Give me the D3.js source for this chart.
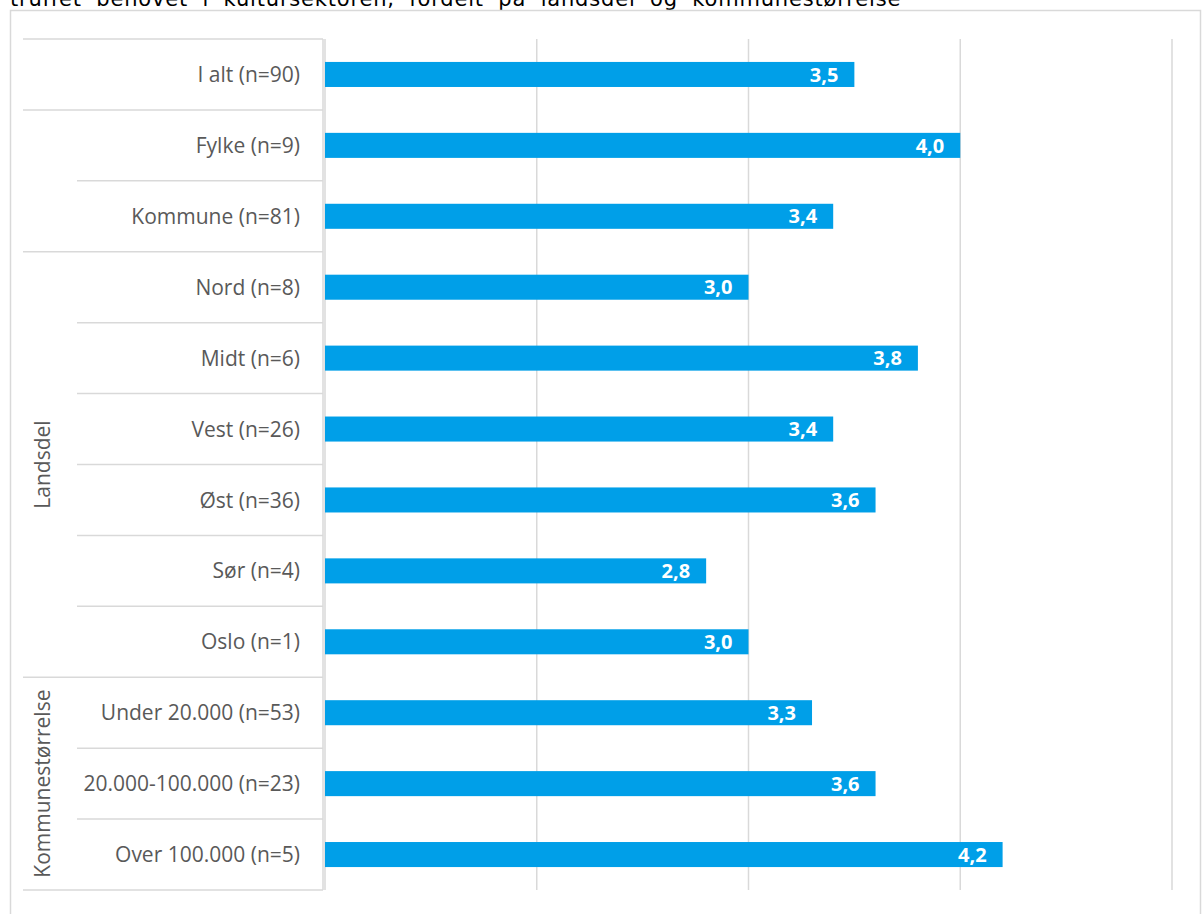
<!DOCTYPE html>
<html>
<head>
<meta charset="utf-8">
<script src="https://cdn.jsdelivr.net/npm/d3@7"></script>
<style>
  html, body { margin: 0; padding: 0; background: #fff; overflow: hidden; }
  svg { display: block; }
</style>
</head>
<body>
<svg id="chart" width="1202" height="914"></svg>
<script>
const titleText = "truffet behovet i kultursektoren, fordelt på landsdel og kommunestørrelse";
const categories = [
  "I alt (n=90)", "Fylke (n=9)", "Kommune (n=81)",
  "Nord (n=8)", "Midt (n=6)", "Vest (n=26)", "Øst (n=36)", "Sør (n=4)", "Oslo (n=1)",
  "Under 20.000 (n=53)", "20.000-100.000 (n=23)", "Over 100.000 (n=5)"
];
const values = [3.5, 4.0, 3.4, 3.0, 3.8, 3.4, 3.6, 2.8, 3.0, 3.3, 3.6, 4.2];
const groupLabels = ["", "", "Landsdel", "Kommunestørrelse"];
const groupSizes = [1, 2, 6, 3];
const xTicks = [1, 2, 3, 4, 5];

const svg = d3.select("#chart");
const grid = "#d9d9d9";
const labelColor = "#595959";
const barColor = "#009FE8";
const font = "'Open Sans', sans-serif";

// title (justified line, mostly above the viewport as in the reference)
const title = svg.append("text")
  .attr("x", 10).attr("y", 6)
  .attr("font-family", "'DejaVu Sans', Verdana, sans-serif")
  .attr("font-size", 21)
  .attr("word-spacing", 7)
  .attr("fill", "#000")
  .text(titleText);
const natural = title.node().getComputedTextLength();
title.attr("letter-spacing", Math.max(0, (890 - natural) / (titleText.length - 1)));

// chart frame
svg.append("rect")
  .attr("x", 10.5).attr("y", 10.5)
  .attr("width", 1190).attr("height", 920)
  .attr("fill", "#fff").attr("stroke", grid).attr("stroke-width", 1.5);

const x = d3.scaleLinear().domain([1, 5]).range([325, 1172]);
const y = d3.scaleBand().domain(categories).range([39, 890])
  .paddingInner(0.647).paddingOuter(0.3235);

// vertical gridlines
svg.append("g").selectAll("line").data(xTicks).join("line")
  .attr("x1", d => x(d)).attr("x2", d => x(d))
  .attr("y1", 39).attr("y2", 890)
  .attr("stroke", grid).attr("stroke-width", 1.5);

// bars
svg.append("g").selectAll("rect").data(categories).join("rect")
  .attr("x", x(1))
  .attr("y", d => y(d))
  .attr("width", (d, i) => x(values[i]) - x(1))
  .attr("height", y.bandwidth())
  .attr("fill", barColor);

// value labels
svg.append("g").selectAll("text").data(categories).join("text")
  .attr("x", (d, i) => x(values[i]) - 16)
  .attr("y", d => y(d) + y.bandwidth() / 2)
  .attr("dy", "0.36em")
  .attr("text-anchor", "end")
  .attr("font-family", font).attr("font-weight", 700).attr("font-size", 20)
  .attr("fill", "#fff")
  .text((d, i) => d3.format(".1f")(values[i]).replace(".", ","));

// category axis (hierarchical)
const step = y.step();
const axisTop = 39;
const axis = svg.append("g");
axis.append("line")
  .attr("x1", 323).attr("x2", 323).attr("y1", axisTop).attr("y2", 890)
  .attr("stroke", grid).attr("stroke-width", 1.5);

// separator lines
let idx = 0;
const sepLines = [{ y: axisTop, x1: 23 }];
groupSizes.forEach((size) => {
  for (let k = 1; k < size; k++) sepLines.push({ y: axisTop + (idx + k) * step, x1: 77 });
  idx += size;
  sepLines.push({ y: axisTop + idx * step, x1: 23 });
});
axis.selectAll("line.sep").data(sepLines).join("line")
  .attr("class", "sep")
  .attr("x1", d => d.x1).attr("x2", 323)
  .attr("y1", d => d.y).attr("y2", d => d.y)
  .attr("stroke", grid).attr("stroke-width", 1.5);

// category labels
axis.selectAll("text.cat").data(categories).join("text")
  .attr("class", "cat")
  .attr("x", 300)
  .attr("y", d => y(d) + y.bandwidth() / 2)
  .attr("dy", "0.36em")
  .attr("text-anchor", "end")
  .attr("font-family", font).attr("font-size", 21)
  .attr("fill", labelColor)
  .text(d => d);

// group labels (rotated)
let start = 0;
const groupPos = groupSizes.map((size, g) => {
  const c = axisTop + (start + size / 2) * step;
  start += size;
  return { label: groupLabels[g], c };
});
axis.selectAll("text.grp").data(groupPos.filter(d => d.label)).join("text")
  .attr("class", "grp")
  .attr("transform", d => `translate(42,${d.c}) rotate(-90)`)
  .attr("dy", "0.36em")
  .attr("text-anchor", "middle")
  .attr("font-family", font).attr("font-size", 21)
  .attr("fill", labelColor)
  .text(d => d.label);
</script>
</body>
</html>
